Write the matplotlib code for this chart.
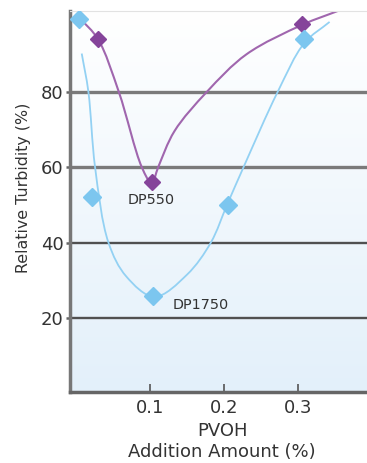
import numpy as np
import matplotlib
matplotlib.use("Agg")
import matplotlib.pyplot as plt
from matplotlib.path import Path
from matplotlib.patches import PathPatch
from matplotlib.colors import LinearSegmentedColormap

# ---- data ----
dp1750_x = [0.004, 0.022, 0.104, 0.205, 0.308]
dp1750_y = [99.3, 52.0, 25.7, 50.0, 94.0]
dp550_x = [0.030, 0.103, 0.305]
dp550_y = [94.0, 56.0, 98.0]

# trend-line traces
trend1750_x = [0.008, 0.017, 0.026, 0.044, 0.068, 0.106, 0.150, 0.182, 0.204, 0.226, 0.272, 0.308, 0.342]
trend1750_y = [90.2, 80.0, 60.0, 40.0, 31.0, 25.6, 31.5, 40.0, 50.1, 60.0, 80.0, 93.0, 98.6]
trend550_x = [0.005, 0.030, 0.058, 0.089, 0.1023, 0.111, 0.133, 0.1765, 0.230, 0.306, 0.353]
trend550_y = [99.7, 94.0, 80.0, 60.0, 55.7, 60.0, 69.6, 80.0, 90.0, 97.9, 101.5]

y_ticks = [20, 40, 60, 80]
x_ticks = [0.1, 0.2, 0.3]
x_ticklabels = ["0.1", "0.2", "0.3"]

labels = ["DP550", "DP1750"]
label_x = [0.101, 0.168]
label_y = [51.2, 23.4]

BLUE_M = "#7cc6ef"
BLUE_L = "#93d1f3"
PURP_M = "#85449a"
PURP_L = "#a066ae"

XMIN, XMAX = -0.0078, 0.3924
YMIN, YMAX = 0.3, 101.5


def smooth_path(xs, ys, sx=741.5, sy=3.783, alpha=0.5):
    # centripetal Catmull-Rom -> cubic Bezier segments, computed in pixel-like space
    P = np.column_stack([np.asarray(xs) * sx, np.asarray(ys) * sy]).astype(float)
    P = np.vstack([2 * P[0] - P[1], P, 2 * P[-1] - P[-2]])
    verts = [P[1]]
    codes = [Path.MOVETO]
    for i in range(1, len(P) - 2):
        p0, p1, p2, p3 = P[i - 1], P[i], P[i + 1], P[i + 2]
        d1 = np.linalg.norm(p1 - p0) ** alpha
        d2 = np.linalg.norm(p2 - p1) ** alpha
        d3 = np.linalg.norm(p3 - p2) ** alpha
        c1 = (d1 ** 2 * p2 - d2 ** 2 * p0 + (2 * d1 ** 2 + 3 * d1 * d2 + d2 ** 2) * p1) / (3 * d1 * (d1 + d2))
        c2 = (d3 ** 2 * p1 - d2 ** 2 * p3 + (2 * d3 ** 2 + 3 * d3 * d2 + d2 ** 2) * p2) / (3 * d3 * (d3 + d2))
        verts += [c1, c2, p2]
        codes += [Path.CURVE4] * 3
    V = np.array(verts)
    V[:, 0] /= sx
    V[:, 1] /= sy
    return Path(V, codes)


fig = plt.figure(figsize=(3.67, 4.63), dpi=100)
ax = fig.add_axes([70 / 367, 1 - 392 / 463, 1 - 70 / 367, (392 - 11) / 463])

# gradient background
cmap = LinearSegmentedColormap.from_list("bg", ["#e3f0fa", "#ffffff"])
grad = np.linspace(0, 1, 256).reshape(-1, 1)
ax.imshow(grad, extent=[0, 1, 0, 1], transform=ax.transAxes, aspect="auto",
          cmap=cmap, origin="lower", zorder=0, interpolation="bilinear")

# horizontal grid lines
for yv in y_ticks:
    if yv >= 60:
        ax.axhline(yv, color="#7a7a7a", lw=2.4, zorder=1)
    else:
        ax.axhline(yv, color="#505050", lw=1.7, zorder=1)

# trend lines
ax.add_patch(PathPatch(smooth_path(trend550_x, trend550_y), fill=False,
                       edgecolor=PURP_L, lw=1.5, zorder=2))
ax.add_patch(PathPatch(smooth_path(trend1750_x, trend1750_y), fill=False,
                       edgecolor=BLUE_L, lw=1.3, zorder=2))

# markers
ax.plot(dp550_x, dp550_y, linestyle="none", marker="D", ms=8.5,
        color=PURP_M, mec=PURP_M, zorder=3)
ax.plot(dp1750_x, dp1750_y, linestyle="none", marker="D", ms=9,
        color=BLUE_M, mec=BLUE_M, zorder=4)

for t, lx, ly in zip(labels, label_x, label_y):
    ax.text(lx, ly, t, ha="center", va="center", fontsize=10.4,
            color="#333333", zorder=5)

ax.set_xlim(XMIN, XMAX)
ax.set_ylim(YMIN, YMAX)

ax.set_yticks(y_ticks)
ax.set_yticklabels([str(v) for v in y_ticks])
ax.set_xticks(x_ticks)
ax.set_xticklabels(x_ticklabels)

ax.tick_params(axis="y", direction="out", length=3, width=1.8, color="#666666",
               pad=1.8, labelsize=13, labelcolor="#333333")
ax.tick_params(axis="x", direction="in", length=5.5, width=1.2, color="#555555",
               pad=5, labelsize=13, labelcolor="#333333")

ax.spines["right"].set_visible(False)
ax.spines["top"].set_color("#e2e2e2")
ax.spines["top"].set_linewidth(0.8)
ax.spines["left"].set_color("#777777")
ax.spines["left"].set_linewidth(2.5)
ax.spines["bottom"].set_color("#666666")
ax.spines["bottom"].set_linewidth(2.5)

ax.set_xlabel("PVOH\nAddition Amount (%)", fontsize=13, color="#333333",
              linespacing=1.15)
ax.xaxis.set_label_coords(0.512, -0.080)
ax.set_ylabel("Relative Turbidity (%)", fontsize=11.4, color="#333333")
ax.yaxis.set_label_coords(-0.131, 0.535)

fig.savefig("out.png", dpi=100)
